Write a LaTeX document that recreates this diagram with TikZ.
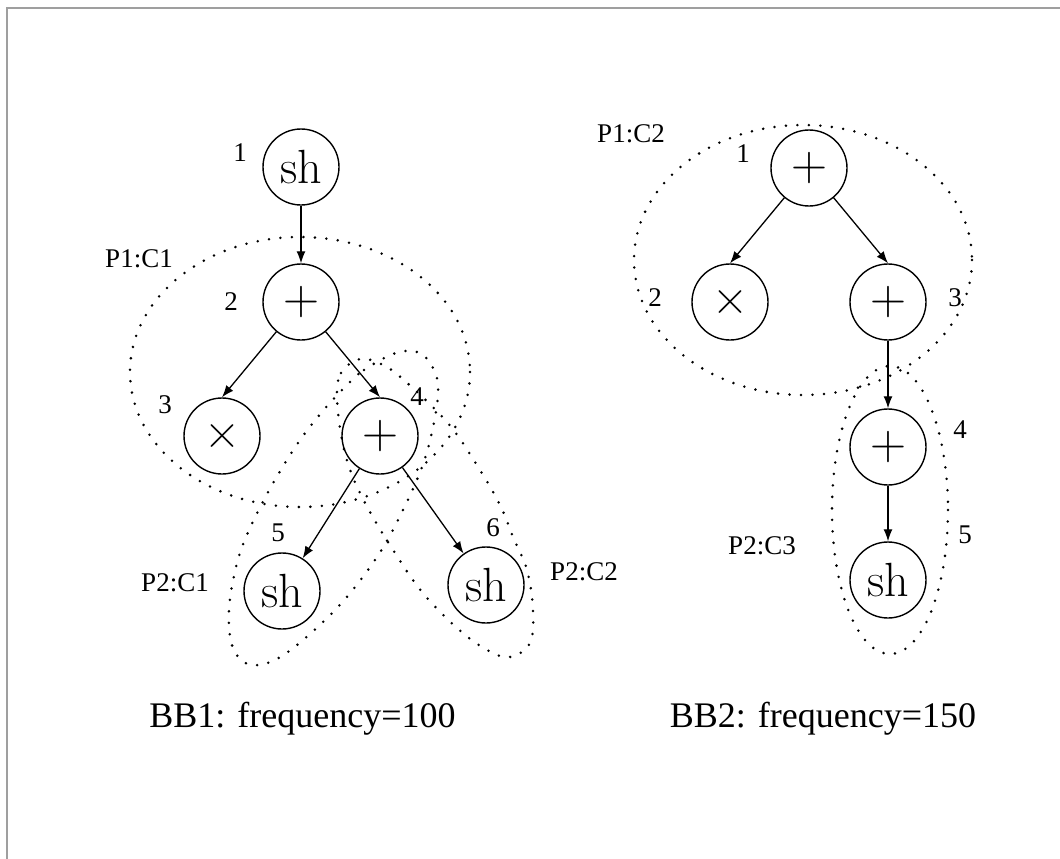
\documentclass[tikz,border=0pt]{standalone}
\usepackage{fontspec}
\newfontfamily\tnr{Liberation Serif}
\usetikzlibrary{arrows.meta}
\begin{document}
\begin{tikzpicture}[x=1pt,y=-1pt,
  opnode/.style={circle,draw,line width=1.4pt,minimum size=76pt,inner sep=0pt},
  shtxt/.style={font=\fontsize{48}{50}\selectfont},
  symtxt/.style={font=\fontsize{50}{52}\selectfont},
  lbl/.style={font=\tnr\fontsize{27}{30}\selectfont,inner sep=0pt},
  bbcaption/.style={font=\tnr\fontsize{36}{40}\selectfont,inner sep=0pt,anchor=base},
  edge/.style={-{Latex[length=12pt,width=9pt]},line width=1.3pt},
  dotline/.style={line width=2.8pt,dash pattern=on 0pt off 11.5pt,line cap=round}]
\useasboundingbox (0,0) rectangle (1060,859);
\draw[color=gray!75,line width=2pt] (7,859) -- (7,8) -- (1060,8);

% ---------- left tree ----------
\node[opnode,shtxt]  (a1) at (301,167) {sh};
\node[opnode,symtxt] (a2) at (301,302) {+};
\node[opnode,symtxt] (a3) at (222,436) {×};
\node[opnode,symtxt] (a4) at (380,436) {+};
\node[opnode,shtxt]  (a5) at (282,591) {sh};
\node[opnode,shtxt]  (a6) at (486,585) {sh};

\draw[edge] (a1) -- (a2);
\draw[edge] (a2) -- (a3.north);
\draw[edge] (a2) -- (a4.north);
\draw[edge] (a4) -- (a5);
\draw[edge] (a4) -- (a6);

\node[lbl] (la1) at (240,153) {1};
\node[lbl] (la2) at (231,302) {2};
\node[lbl] (la3) at (165,405) {3};
\node[lbl] (la4) at (417,397) {4};
\node[lbl] (la5) at (278,533) {5};
\node[lbl] (la6) at (493,528) {6};
\node[lbl] (pa1) at (139,259) {P1:C1};
\node[lbl] (pa2) at (175,583) {P2:C1};
\node[lbl] (pa3) at (584,572) {P2:C2};

% P1:C1
\draw[dotline] (300,372) ellipse [x radius=170,y radius=135];
% P2:C1
\draw[dotline] plot[smooth cycle,tension=0.6] coordinates {
 (345,387) (364,370) (396,353) (420,353) (435,372) (438,395) (432,432)
 (422,467) (403,510) (377,557) (337,608) (285,654) (252,665) (233,648)
 (229,610) (237,563) (250,528) (272,485) (298,443) (322,412)};
% P2:C2
\draw[dotline] plot[smooth cycle,tension=0.6] coordinates {
 (337,397) (341,373) (360,359) (383,365) (405,381) (447,422) (475,462)
 (500,505) (513,537) (527,570) (533,610) (530,643) (510,657) (487,650)
 (457,628) (422,592) (395,553) (370,512) (352,475) (342,440)};

\node[bbcaption] (bb1) at (302.5,727) {BB1: frequency=100};

% ---------- right tree ----------
\node[opnode,symtxt] (b1) at (809,168) {+};
\node[opnode,symtxt] (b2) at (730,302) {×};
\node[opnode,symtxt] (b3) at (888,302) {+};
\node[opnode,symtxt] (b4) at (888,447) {+};
\node[opnode,shtxt]  (b5) at (888,580) {sh};

\draw[edge] (b1) -- (b2.north);
\draw[edge] (b1) -- (b3.north);
\draw[edge] (b3) -- (b4);
\draw[edge] (b4) -- (b5);

\node[lbl] (lb1) at (743,154) {1};
\node[lbl] (lb2) at (655,298) {2};
\node[lbl] (lb3) at (955,298) {3};
\node[lbl] (lb4) at (960,430) {4};
\node[lbl] (lb5) at (965,535) {5};
\node[lbl] (pb1) at (631,134) {P1:C2};
\node[lbl] (pb2) at (762,546) {P2:C3};

% P1:C2
\draw[dotline] (803,260) ellipse [x radius=169,y radius=135];
% P2:C3
\draw[dotline] (890,510) ellipse [x radius=58,y radius=144];

\node[bbcaption] (bb2) at (823,727) {BB2: frequency=150};
\end{tikzpicture}
\end{document}
